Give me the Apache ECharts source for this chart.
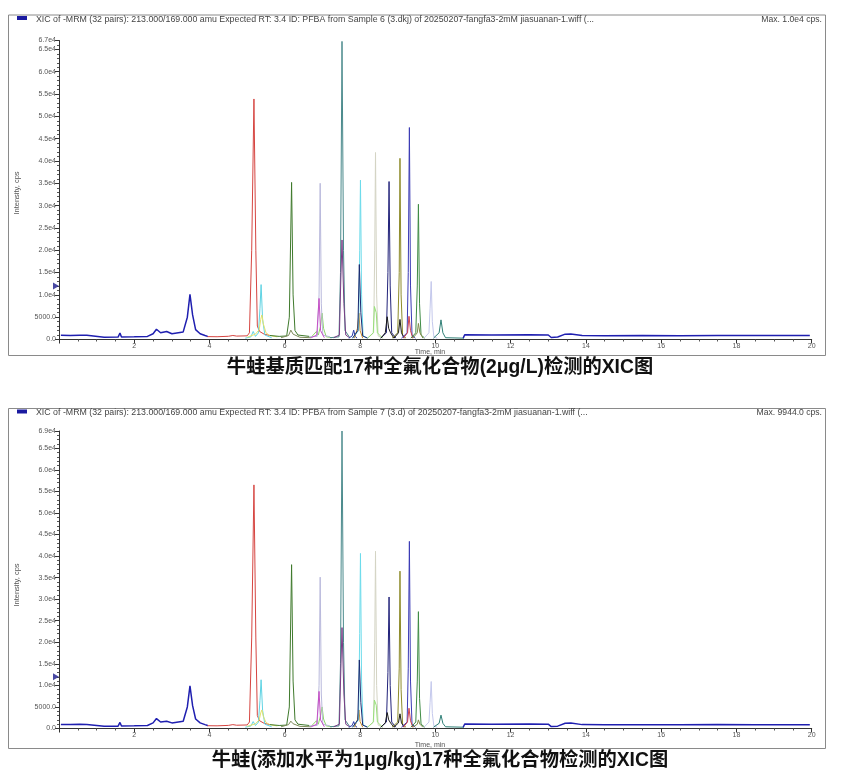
<!DOCTYPE html>
<html><head><meta charset="utf-8">
<script src="https://cdn.jsdelivr.net/npm/echarts@6/dist/echarts.min.js"></script>
<style>html,body{margin:0;padding:0;background:#fff}#c{width:851px;height:777px}</style>
</head><body><div id="c"></div>
<script>
// ---------- texts ----------
const topHeader = "XIC of -MRM (32 pairs): 213.000/169.000 amu Expected RT: 3.4 ID: PFBA from Sample 6 (3.dkj) of 20250207-fangfa3-2mM jiasuanan-1.wiff (...";
const botHeader = "XIC of -MRM (32 pairs): 213.000/169.000 amu Expected RT: 3.4 ID: PFBA from Sample 7 (3.d) of 20250207-fangfa3-2mM jiasuanan-1.wiff (...";
const topMax = "Max. 1.0e4 cps.";
const botMax = "Max. 9944.0 cps.";
const topCaption = "牛蛙基质匹配17种全氟化合物(2μg/L)检测的XIC图";
const botCaption = "牛蛙(添加水平为1μg/kg)17种全氟化合物检测的XIC图";
const xName = "Time, min";
const yName = "Intensity, cps";
const topYMax = 67000;
const botYMax = 69000;
const markerLevel = 12000;

// ---------- top panel traces [time, intensity] ----------
const top_PFBA = [[0.05,950],[0.3,920],[0.55,960],[0.74,930],[0.78,560],[1.2,520],[1.57,540],[1.62,1450],[1.66,560],[2.0,620],[2.35,700],[2.5,1300],[2.59,2300],[2.7,1500],[2.86,1800],[3.0,1300],[3.3,1700],[3.41,5000],[3.48,10100],[3.55,5500],[3.63,2200],[3.75,1300],[3.88,900],[3.95,700]];
const top_late = [[10.74,300],[10.78,1050],[11.5,1000],[12.5,1050],[13.0,1000],[13.08,450],[13.25,550],[13.45,1200],[13.6,1250],[13.9,900],[14.5,850],[15.5,880],[16.5,860],[17.5,900],[18.5,870],[19.95,880]];
const top_red = [[3.93,650],[4.2,620],[4.5,720],[4.62,900],[4.72,760],[5.0,820],[5.06,1500],[5.12,20000],[5.18,53900],[5.23,20000],[5.27,3000],[5.33,1800],[5.45,1200],[5.6,900]];
const top_cyan = [[4.95,300],[5.1,600],[5.16,1800],[5.22,700],[5.3,1500],[5.34,7000],[5.37,12300],[5.41,4500],[5.47,1000],[5.65,400]];
const top_yellow = [[5.0,500],[5.22,1200],[5.32,2200],[5.36,4500],[5.39,5500],[5.43,3500],[5.5,1500],[5.6,900],[5.8,600]];
const top_green = [[5.6,900],[5.85,700],[6.05,800],[6.12,5000],[6.18,35200],[6.22,10000],[6.27,2000],[6.35,1000],[6.65,700]];
const top_olive1 = [[5.9,400],[6.1,900],[6.16,2100],[6.22,1200],[6.4,500],[6.7,400]];
const top_lav1 = [[6.65,600],[6.86,700],[6.91,10000],[6.94,35000],[6.97,8000],[7.01,1000],[7.2,600]];
const top_mag = [[6.7,400],[6.85,1000],[6.91,9200],[6.95,2000],[7.05,400]];
const top_lgreen1 = [[6.7,500],[6.84,1800],[6.89,1000],[6.95,3000],[6.99,5900],[7.03,2500],[7.1,600],[7.25,400]];
const top_teal = [[7.2,400],[7.44,600],[7.48,15000],[7.52,66800],[7.56,20000],[7.6,2000],[7.72,500]];
const top_purple = [[7.3,400],[7.45,1000],[7.49,14000],[7.52,22300],[7.57,8000],[7.62,1000],[7.72,400]];
const top_navy1 = [[7.7,300],[7.79,800],[7.83,2100],[7.87,700],[7.92,300]];
const top_orange = [[7.85,300],[7.93,2500],[7.97,5900],[8.0,2000],[8.07,300]];
const top_cyan2 = [[7.8,300],[7.96,2000],[7.99,20000],[8.01,35700],[8.04,10000],[8.08,800],[8.2,300]];
const top_navy2 = [[7.8,300],[7.94,2000],[7.98,16800],[8.02,6000],[8.07,800],[8.2,300]];
const top_gray = [[8.2,300],[8.36,1500],[8.39,20000],[8.41,41900],[8.44,10000],[8.48,800],[8.6,300]];
const top_lgreen2 = [[8.2,300],[8.35,1500],[8.38,7400],[8.43,6000],[8.46,1500],[8.6,300]];
const top_indigo = [[8.55,300],[8.7,1500],[8.74,15000],[8.77,35400],[8.8,12000],[8.84,1500],[8.95,300]];
const top_black1 = [[8.55,300],[8.67,1500],[8.72,5100],[8.76,2500],[8.81,1500],[8.9,300]];
const top_olive = [[8.85,300],[9.0,1500],[9.04,15000],[9.06,40600],[9.09,10000],[9.13,1000],[9.22,300]];
const top_black2 = [[8.9,300],[9.02,1500],[9.06,4500],[9.1,1500],[9.17,300]];
const top_bviolet = [[9.1,300],[9.25,1500],[9.28,15000],[9.31,47500],[9.34,12000],[9.38,1000],[9.47,300]];
const top_red2 = [[9.15,300],[9.26,1500],[9.3,5200],[9.34,2000],[9.4,300]];
const top_green2 = [[9.35,300],[9.48,1500],[9.52,12000],[9.55,30300],[9.58,8000],[9.62,1000],[9.72,300]];
const top_olive2 = [[9.4,300],[9.52,1500],[9.55,3600],[9.59,1500],[9.67,300]];
const top_lav2 = [[9.7,300],[9.83,1500],[9.86,7000],[9.89,13000],[9.92,4000],[9.96,600],[10.05,300]];
const top_teal2 = [[9.95,300],[10.1,1500],[10.15,4400],[10.2,1500],[10.27,400],[10.76,300]];

// ---------- bottom panel traces [time, intensity] ----------
const bot_PFBA = [[0.05,950],[0.3,920],[0.55,960],[0.74,930],[0.78,560],[1.2,520],[1.57,540],[1.62,1400],[1.66,560],[2.0,620],[2.35,700],[2.5,1300],[2.59,2300],[2.7,1500],[2.86,1700],[3.0,1300],[3.3,1700],[3.41,5000],[3.48,9900],[3.55,5300],[3.63,2200],[3.75,1300],[3.88,900],[3.95,700]];
const bot_late = [[10.74,300],[10.78,1050],[11.5,1000],[12.5,1050],[13.0,1000],[13.08,450],[13.25,550],[13.45,1200],[13.6,1250],[13.9,900],[14.5,850],[15.5,880],[16.5,860],[17.5,900],[18.5,870],[19.95,880]];
const bot_red = [[3.93,650],[4.2,620],[4.5,720],[4.62,900],[4.72,760],[5.0,820],[5.06,1500],[5.12,21000],[5.18,56500],[5.23,21000],[5.27,3000],[5.33,1800],[5.45,1200],[5.6,900]];
const bot_cyan = [[4.95,300],[5.1,600],[5.16,1600],[5.22,700],[5.3,1500],[5.34,6500],[5.37,11300],[5.41,4200],[5.47,1000],[5.65,400]];
const bot_yellow = [[5.0,500],[5.22,1100],[5.32,2000],[5.36,3600],[5.39,4300],[5.43,2800],[5.5,1400],[5.6,900],[5.8,600]];
const bot_green = [[5.6,900],[5.85,700],[6.05,800],[6.12,5000],[6.18,38000],[6.22,11000],[6.27,2000],[6.35,1000],[6.65,700]];
const bot_olive1 = [[5.9,400],[6.1,900],[6.16,1700],[6.22,1100],[6.4,500],[6.7,400]];
const bot_lav1 = [[6.65,600],[6.86,700],[6.91,10000],[6.94,35100],[6.97,8000],[7.01,1000],[7.2,600]];
const bot_mag = [[6.7,400],[6.85,1000],[6.91,8600],[6.95,2000],[7.05,400]];
const bot_lgreen1 = [[6.7,500],[6.84,1800],[6.89,1000],[6.95,3000],[6.99,5000],[7.03,2200],[7.1,600],[7.25,400]];
const bot_teal = [[7.2,400],[7.44,600],[7.48,15000],[7.52,69000],[7.56,20000],[7.6,2000],[7.72,500]];
const bot_purple = [[7.3,400],[7.45,1000],[7.49,14000],[7.52,23400],[7.57,8000],[7.62,1000],[7.72,400]];
const bot_navy1 = [[7.7,300],[7.79,700],[7.83,1600],[7.87,600],[7.92,300]];
const bot_orange = [[7.85,300],[7.93,2000],[7.97,4300],[8.0,1600],[8.07,300]];
const bot_cyan2 = [[7.8,300],[7.96,2000],[7.99,22000],[8.01,40600],[8.04,11000],[8.08,800],[8.2,300]];
const bot_navy2 = [[7.8,300],[7.94,2000],[7.98,15900],[8.02,6000],[8.07,800],[8.2,300]];
const bot_gray = [[8.2,300],[8.36,1500],[8.39,20000],[8.41,41100],[8.44,10000],[8.48,800],[8.6,300]];
const bot_lgreen2 = [[8.2,300],[8.35,1500],[8.38,6600],[8.43,5400],[8.46,1500],[8.6,300]];
const bot_indigo = [[8.55,300],[8.7,1500],[8.74,13000],[8.77,30500],[8.8,10000],[8.84,1500],[8.95,300]];
const bot_black1 = [[8.55,300],[8.67,1300],[8.72,3700],[8.76,2000],[8.81,1300],[8.9,300]];
const bot_olive = [[8.85,300],[9.0,1500],[9.04,14000],[9.06,36500],[9.09,9000],[9.13,1000],[9.22,300]];
const bot_black2 = [[8.9,300],[9.02,1300],[9.06,3400],[9.1,1300],[9.17,300]];
const bot_bviolet = [[9.1,300],[9.25,1500],[9.28,14000],[9.31,43400],[9.34,11000],[9.38,1000],[9.47,300]];
const bot_red2 = [[9.15,300],[9.26,1500],[9.3,4700],[9.34,1800],[9.4,300]];
const bot_green2 = [[9.35,300],[9.48,1500],[9.52,11000],[9.55,27100],[9.58,7000],[9.62,1000],[9.72,300]];
const bot_olive2 = [[9.4,300],[9.52,1000],[9.55,2000],[9.59,1000],[9.67,300]];
const bot_lav2 = [[9.7,300],[9.83,1500],[9.86,6000],[9.89,10900],[9.92,3500],[9.96,600],[10.05,300]];
const bot_teal2 = [[9.95,300],[10.1,1200],[10.15,3100],[10.2,1200],[10.27,400],[10.76,300]];

// ---------- colours ----------
const C = {
  blue:'#1f1fb0', red:'#d64541', cyan:'#5fd3e3', yellow:'#e6e36a', green:'#3f7a2c', olive1:'#7d8a5a',
  lav1:'#b9b9dc', mag:'#c64fc6', lgreen1:'#8fd867', teal:'#4a8a8c', purple:'#7a3d86', navy1:'#2a3aa8',
  orange:'#c98a2a', cyan2:'#6cdbeb', navy2:'#1b2a70', gray:'#d4d4c4', lgreen2:'#98e07a', indigo:'#22237a',
  black:'#1a1a1a', olive:'#8e8b2a', bviolet:'#3b3bb5', red2:'#d0404a', green2:'#3f8c45', olive2:'#7f8a4a',
  lav2:'#c4c8ec', teal2:'#2f7f76'
};

const topTraces = [
  [top_red,C.red],[top_cyan,C.cyan],[top_yellow,C.yellow],[top_green,C.green],[top_olive1,C.olive1],
  [top_lgreen1,C.lgreen1],[top_lav1,C.lav1],[top_mag,C.mag],[top_teal,C.teal],[top_purple,C.purple],
  [top_navy1,C.navy1],[top_orange,C.orange],[top_cyan2,C.cyan2],[top_navy2,C.navy2],[top_gray,C.gray],
  [top_lgreen2,C.lgreen2],[top_indigo,C.indigo],[top_black1,C.black],[top_olive,C.olive],[top_black2,C.black],
  [top_bviolet,C.bviolet],[top_red2,C.red2],[top_green2,C.green2],[top_olive2,C.olive2],[top_lav2,C.lav2],
  [top_teal2,C.teal2],[top_PFBA,C.blue,1.5],[top_late,C.blue,1.5]
];
const botTraces = [
  [bot_red,C.red],[bot_cyan,C.cyan],[bot_yellow,C.yellow],[bot_green,C.green],[bot_olive1,C.olive1],
  [bot_lgreen1,C.lgreen1],[bot_lav1,C.lav1],[bot_mag,C.mag],[bot_teal,C.teal],[bot_purple,C.purple],
  [bot_navy1,C.navy1],[bot_orange,C.orange],[bot_cyan2,C.cyan2],[bot_navy2,C.navy2],[bot_gray,C.gray],
  [bot_lgreen2,C.lgreen2],[bot_indigo,C.indigo],[bot_black1,C.black],[bot_olive,C.olive],[bot_black2,C.black],
  [bot_bviolet,C.bviolet],[bot_red2,C.red2],[bot_green2,C.green2],[bot_olive2,C.olive2],[bot_lav2,C.lav2],
  [bot_teal2,C.teal2],[bot_PFBA,C.blue,1.5],[bot_late,C.blue,1.5]
];

const FONT = '"Liberation Sans", Arial, sans-serif';
const CJK = '"Liberation Sans", "Noto Sans CJK SC", sans-serif';

function yFmt(v){
  if (v === 0) return '0.0';
  if (v < 10000) return v.toFixed(1);
  return (v/10000).toFixed(1) + 'e4';
}
function xAxisCfg(gi){
  return {
    type:'value', gridIndex:gi, min:0, max:20, interval:2,
    axisLine:{show:true, onZero:false, lineStyle:{color:'#333', width:1}},
    axisTick:{show:true, length:4, lineStyle:{color:'#333'}},
    minorTick:{show:true, splitNumber:4, length:2, lineStyle:{color:'#555'}},
    splitLine:{show:false},
    axisLabel:{fontFamily:FONT, fontSize:7, color:'#555', margin:3, formatter:v => v===0 ? '' : String(v)}
  };
}
function yAxisCfg(gi, max){
  return {
    type:'value', gridIndex:gi, min:0, max:max, interval:5000,
    axisLine:{show:true, lineStyle:{color:'#333', width:1}},
    axisTick:{show:true, length:4, lineStyle:{color:'#333'}},
    minorTick:{show:true, splitNumber:5, length:2, lineStyle:{color:'#555'}},
    splitLine:{show:false},
    axisLabel:{fontFamily:FONT, fontSize:7, color:'#555', margin:3, formatter:yFmt}
  };
}

const series = [];
topTraces.forEach(([d,c,w]) => series.push({type:'line', xAxisIndex:0, yAxisIndex:0, data:d, symbol:'none', silent:true,
  lineStyle:{width:w||1, color:c}, itemStyle:{color:c}}));
botTraces.forEach(([d,c,w]) => series.push({type:'line', xAxisIndex:1, yAxisIndex:1, data:d, symbol:'none', silent:true,
  lineStyle:{width:w||1, color:c}, itemStyle:{color:c}}));
[0,1].forEach(i => series.push({type:'scatter', xAxisIndex:i, yAxisIndex:i, data:[[0, markerLevel]], symbol:'triangle',
  symbolSize:[7,6], symbolRotate:-90, symbolOffset:[-3,0], silent:true, itemStyle:{color:'#1a1a8c'}, clip:false}));

function panelGraphics(top, bottom, header, maxText, caption, capY, capSize, yTitleY, timeY){
  return [
    {type:'rect', shape:{x:8.5, y:top+0.5, width:817, height:bottom-top}, style:{fill:'none', stroke:'#8a8a8a', lineWidth:1}, silent:true},
    {type:'rect', shape:{x:17, y:top+1.5, width:10, height:4}, style:{fill:'#1a1aa0'}, silent:true},
    {type:'text', x:36, y:top+5, style:{text:header, font:'8.8px '+FONT, fill:'#444', textVerticalAlign:'middle'}, silent:true},
    {type:'text', x:822, y:top+5, style:{text:maxText, font:'8.6px '+FONT, fill:'#444', textAlign:'right', textVerticalAlign:'middle'}, silent:true},
    {type:'text', x:17, y:yTitleY, rotation:Math.PI/2, style:{text:yName, font:'7.5px '+FONT, fill:'#555', textAlign:'center', textVerticalAlign:'middle'}, silent:true},
    {type:'text', x:430, y:timeY, style:{text:xName, font:'7px '+FONT, fill:'#555', textAlign:'center', textVerticalAlign:'middle'}, silent:true},
    {type:'text', x:440, y:capY, style:{text:caption, font:'bold '+capSize+'px '+CJK, fill:'#111', textAlign:'center', textVerticalAlign:'middle'}, silent:true}
  ];
}

const option = {
  animation:false,
  backgroundColor:'#fff',
  grid:[
    {left:59, right:39.3, top:40.5, height:299},
    {left:59, right:39.3, top:431, height:297.5}
  ],
  xAxis:[xAxisCfg(0), xAxisCfg(1)],
  yAxis:[yAxisCfg(0, topYMax), yAxisCfg(1, botYMax)],
  series:series,
  graphic:[].concat(
    panelGraphics(14.5, 355, topHeader, topMax, topCaption, 368, 19.3, 193, 352),
    panelGraphics(408, 748, botHeader, botMax, botCaption, 761, 19.3, 585, 745)
  )
};
const chart = echarts.init(document.getElementById('c'), null, {renderer:'canvas'});
chart.setOption(option);
</script></body></html>
